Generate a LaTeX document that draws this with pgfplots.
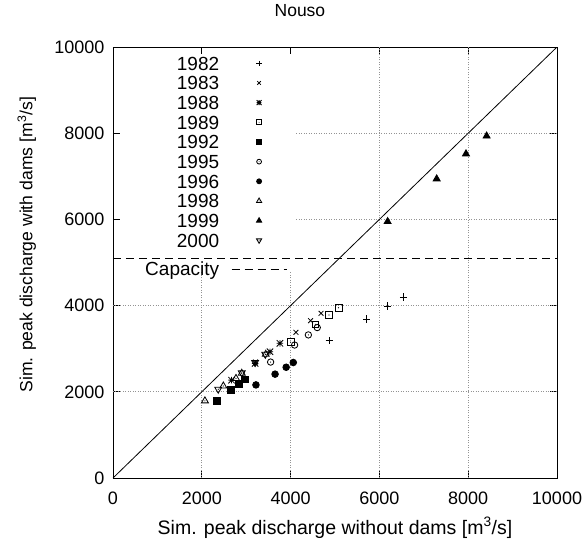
\documentclass[border=0pt]{standalone}
\usepackage{fontspec}
\setmainfont{Liberation Sans}
\usepackage{pgfplots}
\pgfplotsset{compat=1.18}

\makeatletter
\pgfdeclareplotmark{gpstar}{%
  \pgfpathmoveto{\pgfqpoint{-\pgfplotmarksize}{0pt}}\pgfpathlineto{\pgfqpoint{\pgfplotmarksize}{0pt}}%
  \pgfpathmoveto{\pgfqpoint{0pt}{-\pgfplotmarksize}}\pgfpathlineto{\pgfqpoint{0pt}{\pgfplotmarksize}}%
  \pgfpathmoveto{\pgfqpoint{-\pgfplotmarksize}{-\pgfplotmarksize}}\pgfpathlineto{\pgfqpoint{\pgfplotmarksize}{\pgfplotmarksize}}%
  \pgfpathmoveto{\pgfqpoint{-\pgfplotmarksize}{\pgfplotmarksize}}\pgfpathlineto{\pgfqpoint{\pgfplotmarksize}{-\pgfplotmarksize}}%
  \pgfusepathqstroke}
\pgfdeclareplotmark{dsquare}{%
  \pgfpathrectangle{\pgfqpoint{-\pgfplotmarksize}{-\pgfplotmarksize}}{\pgfqpoint{2\pgfplotmarksize}{2\pgfplotmarksize}}%
  \pgfusepathqstroke
  \pgfpathcircle{\pgfpointorigin}{0.6pt}\pgfusepathqfill}
\pgfdeclareplotmark{dcircle}{%
  \pgfpathcircle{\pgfpointorigin}{\pgfplotmarksize}%
  \pgfusepathqstroke
  \pgfpathcircle{\pgfpointorigin}{0.6pt}\pgfusepathqfill}
\pgfdeclareplotmark{dtriangle}{%
  \pgfpathmoveto{\pgfqpointpolar{90}{\pgfplotmarksize}}%
  \pgfpathlineto{\pgfqpointpolar{210}{\pgfplotmarksize}}%
  \pgfpathlineto{\pgfqpointpolar{330}{\pgfplotmarksize}}%
  \pgfpathclose
  \pgfusepathqstroke
  \pgfpathcircle{\pgfpointorigin}{0.6pt}\pgfusepathqfill}
\pgfdeclareplotmark{dtriangledown}{%
  \pgfpathmoveto{\pgfqpointpolar{270}{\pgfplotmarksize}}%
  \pgfpathlineto{\pgfqpointpolar{30}{\pgfplotmarksize}}%
  \pgfpathlineto{\pgfqpointpolar{150}{\pgfplotmarksize}}%
  \pgfpathclose
  \pgfusepathqstroke
  \pgfpathcircle{\pgfpointorigin}{0.6pt}\pgfusepathqfill}
\makeatother

\newcommand{\tickfont}{\fontsize{18}{21}\selectfont}
\newcommand{\legfont}{\fontsize{19}{22}\selectfont}
\pgfplotsset{
  capimage/.style={legend image code/.code={\draw[##1] (0pt,-9pt) -- (55pt,-9pt);}},
  gridl/.style={forget plot, gray!85, line width=0.7pt, dash pattern=on 1pt off 1.5pt},
  mk/.style={only marks, mark options={solid, line width=0.85pt, fill=black}},
}

\begin{document}
\begin{tikzpicture}
\path[use as bounding box] (-113pt,-64pt) rectangle (472pt,478pt);
\begin{axis}[
  scale only axis, width=444pt, height=431pt,
  xmin=0, xmax=10000, ymin=0, ymax=10000,
  xtick={0,2000,4000,6000,8000,10000},
  ytick={0,2000,4000,6000,8000,10000},
  scaled ticks=false,
  /pgf/number format/1000 sep={},
  /pgf/number format/assume math mode=true,
  tick align=inside, major tick length=7pt,
  axis line style={line width=0.9pt},
  every tick/.style={black, line width=0.8pt},
  tick label style={font=\tickfont},
  xticklabel shift=10pt,
  yticklabel shift=5pt,
  title={Nouso},
  title style={font=\fontsize{17.5}{21}\selectfont, at={(axis description cs:0.421,1.07)}, anchor=center},
  xlabel={Sim. peak discharge without dams [m\textsuperscript{3}/s]},
  ylabel={Sim. peak discharge with dams [m\textsuperscript{3}/s]},
  xlabel style={font=\fontsize{19.5}{22}\selectfont, at={(axis description cs:0.5,-0.116)}, anchor=center},
  ylabel style={font=\fontsize{17.6}{21}\selectfont, at={(axis description cs:-0.194,0.541)}, anchor=center},
  legend style={at={(axis description cs:0.392,0.985)}, anchor=north east,
    draw=none, fill=none, inner sep=0pt, outer sep=0pt,
    column sep=12pt, row sep=0pt, font=\legfont,
    nodes={inner sep=0pt, text height=16.6pt, text depth=3.07pt}},
  legend cell align=right, legend plot pos=right,
  legend image code/.code={\draw[mark repeat=2,mark phase=2,#1,every mark/.append style={scale=0.75}] plot coordinates {(0pt,0pt) (27.5pt,0pt) (55pt,0pt)};},
]
% grid (interrupted behind the key)
\addplot[gridl] coordinates {(2000,0) (2000,4780)};
\addplot[gridl] coordinates {(4000,0) (4000,4780)};
\addplot[gridl] coordinates {(6000,0) (6000,10000)};
\addplot[gridl] coordinates {(8000,0) (8000,10000)};
\addplot[gridl] coordinates {(0,2000) (10000,2000)};
\addplot[gridl] coordinates {(0,4000) (10000,4000)};
\addplot[gridl] coordinates {(4130,6000) (10000,6000)};
\addplot[gridl] coordinates {(4130,8000) (10000,8000)};
% 1:1 line
\addplot[forget plot, black, line width=0.8pt] coordinates {(0,0) (10000,10000)};

\addplot[mk, mark=+, mark size=3.6pt] coordinates {(4870,3190) (5710,3690) (6180,3990) (6540,4200)};
\addlegendentry{1982}
\addplot[mk, mark=x, mark size=3.4pt] coordinates {(3210,2690) (4120,3380) (4450,3650) (4685,3820)};
\addlegendentry{1983}
\addplot[mk, mark=gpstar, mark size=3.2pt] coordinates {(2670,2270) (3200,2660) (3535,2930) (3760,3125)};
\addlegendentry{1988}
\addplot[mk, mark=dsquare, mark size=3.4pt] coordinates {(4000,3150) (4560,3565) (4865,3780) (5080,3950)};
\addlegendentry{1989}
\addplot[mk, mark=square*, mark size=3.3pt] coordinates {(2335,1795) (2650,2040) (2840,2180) (2970,2290)};
\addlegendentry{1992}
\addplot[mk, mark=dcircle, mark size=3.2pt] coordinates {(3550,2690) (4090,3085) (4400,3320) (4600,3490)};
\addlegendentry{1995}
\addplot[mk, mark=*, mark size=3.3pt] coordinates {(3220,2160) (3650,2410) (3900,2570) (4060,2680)};
\addlegendentry{1996}
\addplot[mk, mark=dtriangle, mark size=4pt] coordinates {(2070,1790) (2485,2135) (2770,2310) (2900,2430) (3440,2870)};
\addlegendentry{1998}
\addplot[mk, mark=triangle*, mark size=4pt] coordinates {(6185,5950) (7290,6940) (7950,7520) (8415,7935)};
\addlegendentry{1999}
\addplot[mk, mark=dtriangledown, mark size=4pt] coordinates {(2370,2060) (2900,2440) (3200,2680) (3430,2870)};
\addlegendentry{2000}
\addplot[black, line width=0.9pt, dash pattern=on 8pt off 5pt, capimage]
  coordinates {(0,5100) (10000,5100)};
\addlegendentry{\raisebox{-9pt}{Capacity}}
\end{axis}
\end{tikzpicture}
\end{document}
